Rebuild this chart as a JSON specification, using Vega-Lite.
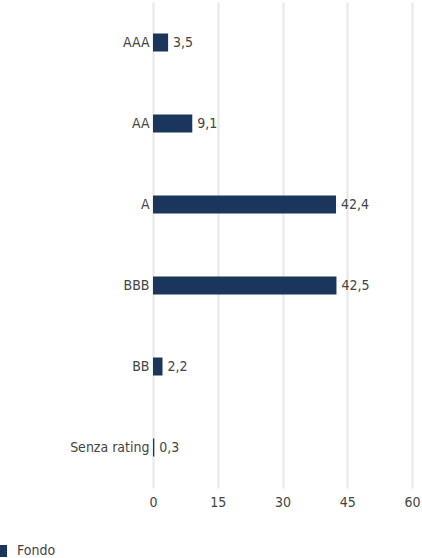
{
  "$schema": "https://vega.github.io/schema/vega-lite/v6.json",
  "autosize": "none",
  "width": 259,
  "height": 486,
  "padding": {"left": 153, "top": 2, "right": 10, "bottom": 70},
  "background": "white",
  "config": {
    "locale": {"number": {"decimal": ",", "thousands": ".", "grouping": [3], "currency": ["€", ""]}},
    "font": "DejaVu Sans Condensed",
    "view": {"stroke": null}
  },
  "data": {
    "values": [
      {"rating": "AAA", "valore": 3.5, "serie": "Fondo"},
      {"rating": "AA", "valore": 9.1, "serie": "Fondo"},
      {"rating": "A", "valore": 42.4, "serie": "Fondo"},
      {"rating": "BBB", "valore": 42.5, "serie": "Fondo"},
      {"rating": "BB", "valore": 2.2, "serie": "Fondo"},
      {"rating": "Senza rating", "valore": 0.3, "serie": "Fondo"}
    ]
  },
  "encoding": {
    "y": {
      "field": "rating", "type": "nominal", "sort": null,
      "axis": {"title": null, "domain": false, "ticks": false, "labelPadding": 4, "labelFontSize": 14, "labelColor": "#444444"}
    },
    "x": {
      "field": "valore", "type": "quantitative",
      "scale": {"domain": [0, 60], "nice": false},
      "axis": {"title": null, "values": [0, 15, 30, 45, 60], "domain": false, "ticks": false, "grid": true, "gridColor": "#ebebeb", "gridWidth": 2.5, "labelFontSize": 14, "labelColor": "#444444", "labelPadding": 7, "labelFlush": false, "format": "d"}
    }
  },
  "layer": [
    {
      "mark": {"type": "bar", "height": 18},
      "encoding": {
        "color": {
          "field": "serie", "type": "nominal",
          "scale": {"range": ["#1b365d"]},
          "legend": {"title": null, "orient": "none", "legendX": -159, "legendY": 542, "symbolType": "square", "symbolSize": 144, "labelFontSize": 14, "labelColor": "#444444", "symbolStrokeWidth": 0, "labelOffset": 9, "padding": 0}
        }
      }
    },
    {
      "mark": {"type": "text", "align": "left", "dx": 5, "fontSize": 14, "color": "#444444"},
      "encoding": {"text": {"field": "valore", "type": "quantitative", "format": ".1f"}}
    }
  ]
}
